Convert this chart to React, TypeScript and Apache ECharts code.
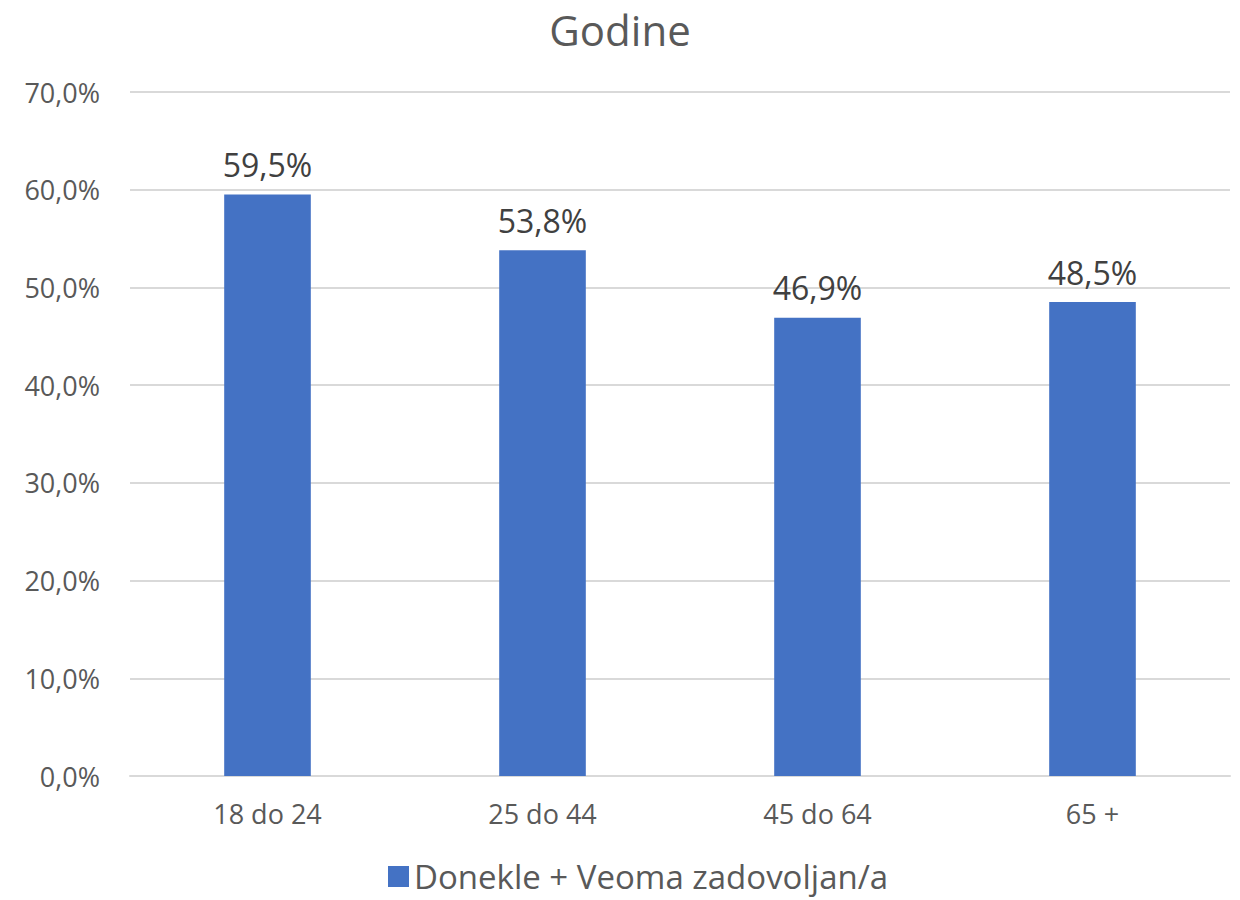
import React, { useEffect, useRef } from "react";
import * as echarts from "echarts";

const categories = ["18 do 24", "25 do 44", "45 do 64", "65 +"];
const values = [59.5, 53.8, 46.9, 48.5];
const seriesName = "Donekle + Veoma zadovoljan/a";
const titleText = "Godine";

const fmt = (v: number) => v.toFixed(1).replace(".", ",") + "%";
const FONT = "'Open Sans', 'Noto Sans', sans-serif";

export default function App() {
  const ref = useRef<HTMLDivElement>(null);
  useEffect(() => {
    if (!ref.current) return;
    const chart = echarts.init(ref.current, null, { renderer: "svg" });
    chart.setOption({
      animation: false,
      title: {
        text: titleText,
        left: "center",
        top: 3,
        textStyle: { fontFamily: FONT, fontSize: 42, fontWeight: "normal", color: "#595959" },
      },
      grid: { left: 130, right: 10, top: 92, bottom: 124, containLabel: false },
      legend: {
        top: 860,
        left: 388,
        padding: 0,
        icon: "rect",
        itemWidth: 21,
        itemHeight: 21,
        itemGap: 8,
        textStyle: { fontFamily: FONT, fontSize: 33, color: "#595959" },
        data: [seriesName],
      },
      xAxis: {
        type: "category",
        data: categories,
        axisLine: { show: true, lineStyle: { color: "#d9d9d9", width: 2 } },
        axisTick: { show: false },
        axisLabel: { fontFamily: FONT, fontSize: 27, color: "#595959", margin: 24 },
      },
      yAxis: {
        type: "value",
        min: 0,
        max: 70,
        interval: 10,
        axisLine: { show: false },
        axisTick: { show: false },
        splitLine: { lineStyle: { color: "#d9d9d9", width: 2 } },
        axisLabel: {
          fontFamily: FONT,
          fontSize: 27,
          color: "#595959",
          margin: 30,
          formatter: (v: number) => fmt(v),
        },
      },
      series: [
        {
          name: seriesName,
          type: "bar",
          data: values,
          barWidth: "31.5%",
          itemStyle: { color: "#4472C4" },
          label: {
            show: true,
            position: "top",
            distance: 14,
            fontFamily: FONT,
            fontSize: 32,
            color: "#404040",
            formatter: (p: any) => fmt(p.value),
          },
        },
      ],
    });
    return () => chart.dispose();
  }, []);
  return (
    <div
      ref={ref}
      style={{ position: "absolute", left: 0, top: 0, width: 1240, height: 900 }}
    />
  );
}
